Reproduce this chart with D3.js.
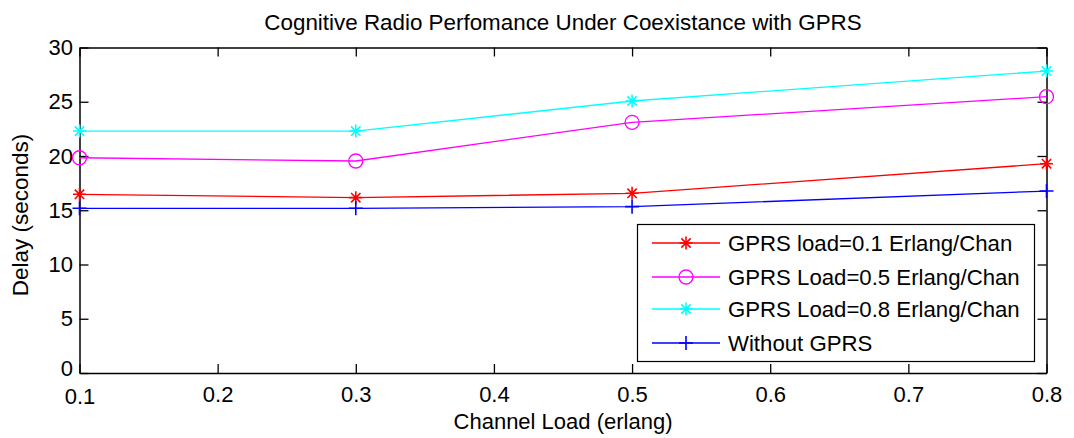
<!DOCTYPE html>
<html><head><meta charset="utf-8">
<script src="https://cdn.jsdelivr.net/npm/d3@7"></script>
<style>body{margin:0;background:#fff}svg{display:block;font-family:"Liberation Sans",Arial,sans-serif}</style>
</head><body><svg id="c" width="1074" height="438"></svg>
<script>
const xValues = [0.1, 0.3, 0.5, 0.8];
const load01 = [16.47, 16.16, 16.56, 19.29];
const load05 = [19.84, 19.54, 23.1, 25.47];
const load08 = [22.3, 22.3, 25.07, 27.83];
const withoutGPRS = [15.18, 15.18, 15.33, 16.77];
const seriesNames = ["GPRS load=0.1 Erlang/Chan","GPRS Load=0.5 Erlang/Chan","GPRS Load=0.8 Erlang/Chan","Without GPRS"];
const xTicks = [0.1,0.2,0.3,0.4,0.5,0.6,0.7,0.8];
const yTicks = [0,5,10,15,20,25,30];
const titleText = "Cognitive Radio Perfomance Under Coexistance with GPRS";
const xLabel = "Channel Load (erlang)";
const yLabel = "Delay (seconds)";

const series = [
  {name: seriesNames[0], values: load01, color: "#ff0000", marker: "star"},
  {name: seriesNames[1], values: load05, color: "#ff00ff", marker: "circle"},
  {name: seriesNames[2], values: load08, color: "#00ffff", marker: "star"},
  {name: seriesNames[3], values: withoutGPRS, color: "#0000ff", marker: "plus"}
];

const L = 79.5, R = 1046.5, T = 47.5, B = 373;
const svg = d3.select("#c");
const x = d3.scaleLinear().domain([0.1, 0.8]).range([L, R]);
const y = d3.scaleLinear().domain([0, 30]).range([B, T]);
const FS = 22;

// axes
const tl = 9;
const ax = svg.append("g");
const gx = ax.append("g").attr("transform", `translate(0,${B})`)
  .call(d3.axisBottom(x).tickValues(xTicks).tickFormat(d3.format(".1f")).tickSizeInner(-tl).tickSizeOuter(0).tickPadding(13));
ax.append("g").attr("transform", `translate(0,${T})`)
  .call(d3.axisTop(x).tickValues(xTicks).tickFormat("").tickSizeInner(-tl).tickSizeOuter(0));
const gy = ax.append("g").attr("transform", `translate(${L},0)`)
  .call(d3.axisLeft(y).tickValues(yTicks).tickSizeInner(-tl).tickSizeOuter(0).tickPadding(6.5));
ax.append("g").attr("transform", `translate(${R},0)`)
  .call(d3.axisRight(y).tickValues(yTicks).tickFormat("").tickSizeInner(-tl).tickSizeOuter(0));
ax.selectAll(".domain").attr("stroke", "#000").attr("stroke-width", 1.5);
ax.selectAll(".tick line").attr("stroke", "#000").attr("stroke-width", 1.3);
ax.selectAll(".tick text").attr("font-size", FS).attr("fill", "#000").attr("font-family", "Liberation Sans, Arial, sans-serif");
// keep the corner labels "0" and "0.1" from colliding
gy.selectAll(".tick text").filter(d => d === 0).attr("dy", "0.12em");
gx.selectAll(".tick text").filter(d => d === 0.1).attr("y", 15);

function drawMarker(g, type, cx, cy, color) {
  if (type === "circle") {
    g.append("circle").attr("cx", cx).attr("cy", cy).attr("r", 7)
      .attr("fill", "none").attr("stroke", color).attr("stroke-width", 1.3);
  } else if (type === "star") {
    const s = 6.5;
    const p = `M${cx-s},${cy}L${cx+s},${cy}M${cx},${cy-s}L${cx},${cy+s}` +
      `M${cx-s*0.72},${cy-s*0.72}L${cx+s*0.72},${cy+s*0.72}M${cx-s*0.72},${cy+s*0.72}L${cx+s*0.72},${cy-s*0.72}`;
    g.append("path").attr("d", p).attr("stroke", color).attr("stroke-width", 1.6).attr("fill", "none");
  } else {
    const s = 7;
    g.append("path").attr("d", `M${cx-s},${cy}L${cx+s},${cy}M${cx},${cy-s}L${cx},${cy+s}`)
      .attr("stroke", color).attr("stroke-width", 1.6).attr("fill", "none");
  }
}

const line = d3.line().x((d, i) => x(xValues[i])).y(d => y(d));
series.forEach(s => {
  const g = svg.append("g");
  g.append("path").attr("d", line(s.values)).attr("fill", "none")
    .attr("stroke", s.color).attr("stroke-width", 1.3);
  s.values.forEach((v, i) => drawMarker(g, s.marker, x(xValues[i]), y(v), s.color));
});

// title and labels
svg.append("text").attr("x", (L + R) / 2).attr("y", 30).attr("text-anchor", "middle")
  .attr("font-size", 22.4).text(titleText);
svg.append("text").attr("x", (L + R) / 2).attr("y", 429).attr("text-anchor", "middle")
  .attr("font-size", FS).text(xLabel);
svg.append("text").attr("transform", `translate(28,215) rotate(-90)`).attr("text-anchor", "middle")
  .attr("font-size", 22.5).text(yLabel);

// legend
const lg = svg.append("g");
lg.append("rect").attr("x", 637.5).attr("y", 224.5).attr("width", 397).attr("height", 137)
  .attr("fill", "#fff").attr("stroke", "#000").attr("stroke-width", 1.2);
const ly = [243, 277, 309, 343];
series.forEach((s, i) => {
  lg.append("line").attr("x1", 652).attr("x2", 720).attr("y1", ly[i]).attr("y2", ly[i])
    .attr("stroke", s.color).attr("stroke-width", 1.3);
  drawMarker(lg, s.marker, 686, ly[i], s.color);
  lg.append("text").attr("x", 728).attr("y", ly[i]).attr("dy", "0.36em")
    .attr("font-size", 22.2).text(s.name);
});
</script></body></html>
